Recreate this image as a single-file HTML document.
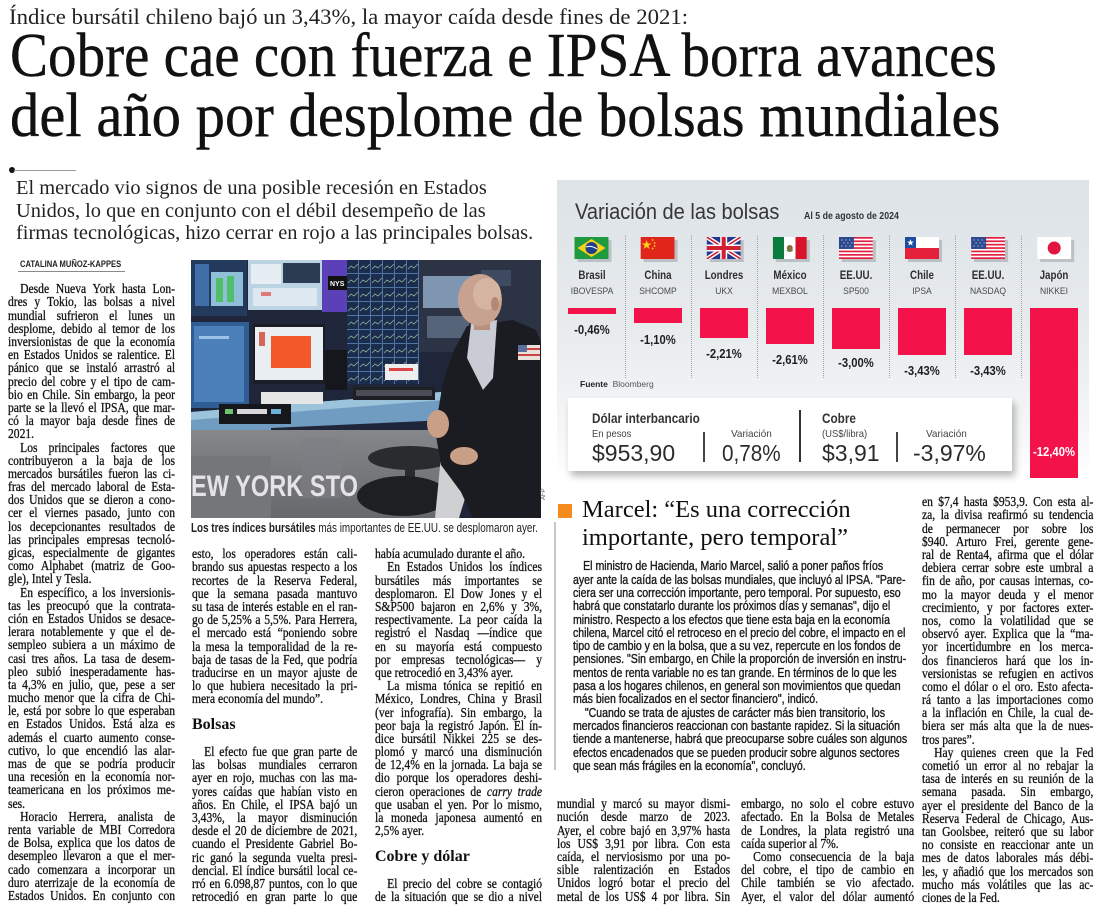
<!DOCTYPE html>
<html><head><meta charset="utf-8">
<style>
*{margin:0;padding:0;box-sizing:border-box}
body{width:1100px;height:912px;background:#fff;position:relative;overflow:hidden;font-family:"Liberation Serif",serif;color:#111}
.a{position:absolute}
.hl{position:absolute;font:62px/62px "Liberation Serif",serif;white-space:nowrap;transform-origin:0 0;color:#111;-webkit-text-stroke:0.4px #111}
.col{position:absolute;transform-origin:0 0;transform:scaleX(.87);font-family:"Liberation Serif",serif;font-size:13.3px;line-height:13.2px;color:#131313;-webkit-text-stroke:0.3px #131313}
.col>div{height:13.2px;text-align:justify;text-align-last:justify}
.col>.e{text-align-last:left}
.col>.i{text-indent:14px}
.h3{position:absolute;font:bold 16px/20px "Liberation Serif",serif;color:#111;white-space:nowrap}
.lbl{position:absolute;width:100px;text-align:center;white-space:nowrap;font-family:"Liberation Sans",sans-serif;transform-origin:50% 50%}
.nm{font-weight:bold;font-size:11.5px;line-height:14px;color:#2e2e2e;transform:scaleX(.85)}
.tk{font-size:9.5px;line-height:12px;color:#4a4a4a;transform:scaleX(.9)}
.vl{font-weight:bold;font-size:12.5px;line-height:14px;color:#1e1e1e;transform:scaleX(.9)}
.bar{position:absolute;background:#f3124a;width:48px;top:308px}
.sep{position:absolute;top:235px;height:143px;border-left:1px dotted #9ea3a8;width:0}
.s{position:absolute;font-family:"Liberation Sans",sans-serif;white-space:nowrap;transform-origin:0 0}
.mb{position:absolute;left:573px;top:560.4px;transform-origin:0 0;transform:scaleX(.845);font-family:"Liberation Sans",sans-serif;font-size:12.5px;line-height:13.3px;color:#1a1a1a;white-space:nowrap;-webkit-text-stroke:0.35px #1a1a1a}
.mb>div{height:13.3px}
</style></head><body>

<!-- Kicker & headline -->
<div class="a" style="left:9px;top:5.6px;font:22px/22px 'Liberation Serif',serif;color:#222;white-space:nowrap;transform:scaleX(1.035);transform-origin:0 0">Índice bursátil chileno bajó un 3,43%, la mayor caída desde fines de 2021:</div>
<div class="hl" style="left:10px;top:25px;transform:scaleX(.92)">Cobre cae con fuerza e IPSA borra avances</div>
<div class="hl" style="left:10px;top:85px;transform:scaleX(.946)">del año por desplome de bolsas mundiales</div>

<!-- dot + rule -->
<div class="a" style="left:9px;top:167px;width:6px;height:6px;border-radius:50%;background:#111"></div>
<div class="a" style="left:14px;top:169.5px;width:62px;height:1px;background:#9a9a9a"></div>

<!-- Deck -->
<div class="a" style="left:16px;top:177px;font:20px/22.5px 'Liberation Serif',serif;color:#222;white-space:nowrap;transform:scaleX(1.02);transform-origin:0 0">
<div>El mercado vio signos de una posible recesión en Estados</div>
<div>Unidos, lo que en conjunto con el débil desempeño de las</div>
<div>firmas tecnológicas, hizo cerrar en rojo a las principales bolsas.</div>
</div>

<!-- Byline -->
<div class="s" style="left:20px;top:259px;font-weight:bold;font-size:9.5px;line-height:12px;color:#222;transform:scaleX(.8)">CATALINA MUÑOZ-KAPPES</div>
<div class="a" style="left:18px;top:271px;width:107px;height:1px;background:#8a8a8a"></div>

<!-- Column 1 -->
<div class="col" style="left:8px;top:282.3px;width:192px">
<div class="i">Desde Nueva York hasta Lon-</div>
<div>dres y Tokio, las bolsas a nivel</div>
<div>mundial sufrieron el lunes un</div>
<div>desplome, debido al temor de los</div>
<div>inversionistas de que la economía</div>
<div>en Estados Unidos se ralentice. El</div>
<div>pánico que se instaló arrastró al</div>
<div>precio del cobre y el tipo de cam-</div>
<div>bio en Chile. Sin embargo, la peor</div>
<div>parte se la llevó el IPSA, que mar-</div>
<div>có la mayor baja desde fines de</div>
<div class="e">2021.</div>
<div class="i">Los principales factores que</div>
<div>contribuyeron a la baja de los</div>
<div>mercados bursátiles fueron las ci-</div>
<div>fras del mercado laboral de Esta-</div>
<div>dos Unidos que se dieron a cono-</div>
<div>cer el viernes pasado, junto con</div>
<div>los decepcionantes resultados de</div>
<div>las principales empresas tecnoló-</div>
<div>gicas, especialmente de gigantes</div>
<div>como Alphabet (matriz de Goo-</div>
<div class="e">gle), Intel y Tesla.</div>
<div class="i">En específico, a los inversionis-</div>
<div>tas les preocupó que la contrata-</div>
<div>ción en Estados Unidos se desace-</div>
<div>lerara notablemente y que el de-</div>
<div>sempleo subiera a un máximo de</div>
<div>casi tres años. La tasa de desem-</div>
<div>pleo subió inesperadamente has-</div>
<div>ta 4,3% en julio, que, pese a ser</div>
<div>mucho menor que la cifra de Chi-</div>
<div>le, está por sobre lo que esperaban</div>
<div>en Estados Unidos. Está alza es</div>
<div>además el cuarto aumento conse-</div>
<div>cutivo, lo que encendió las alar-</div>
<div>mas de que se podría producir</div>
<div>una recesión en la economía nor-</div>
<div>teamericana en los próximos me-</div>
<div class="e">ses.</div>
<div class="i">Horacio Herrera, analista de</div>
<div>renta variable de MBI Corredora</div>
<div>de Bolsa, explica que los datos de</div>
<div>desempleo llevaron a que el mer-</div>
<div>cado comenzara a incorporar un</div>
<div>duro aterrizaje de la economía de</div>
<div>Estados Unidos. En conjunto con</div>
</div>

<!-- Photo -->
<svg class="a" style="left:191px;top:260px" width="350" height="258" viewBox="0 0 350 258">
<defs>
<linearGradient id="dk" x1="0" y1="0" x2="0" y2="1"><stop offset="0" stop-color="#85878b"/><stop offset="1" stop-color="#66686c"/></linearGradient>
<pattern id="grid" width="12" height="14" patternUnits="userSpaceOnUse"><rect width="12" height="14" fill="#1b2c4c"/><path d="M0 13.5H12M11.5 0V14" stroke="#4f73a3" stroke-width="1"/><path d="M1 9 L4 6 L7 8 L11 4" stroke="#8fb39a" stroke-width="0.8" fill="none"/></pattern>
</defs>
<rect width="350" height="258" fill="#20263a"/>
<rect x="0" y="0" width="56" height="56" fill="#233a5c"/>
<rect x="4" y="4" width="14" height="42" fill="#3f6fa8"/>
<rect x="20" y="12" width="32" height="34" fill="#8fc0d8"/>
<rect x="25" y="18" width="7" height="24" fill="#4fbf6a"/>
<rect x="36" y="16" width="7" height="26" fill="#4fbf6a"/>
<rect x="57" y="0" width="74" height="50" fill="#bcd3e4"/>
<rect x="60" y="4" width="30" height="20" fill="#e6eef4"/>
<rect x="92" y="3" width="37" height="20" fill="#2b3b52"/>
<rect x="62" y="28" width="64" height="18" fill="#dde8f0"/>
<rect x="70" y="32" width="10" height="4" fill="#e07a7a"/>
<rect x="131" y="0" width="25" height="52" fill="#5b40b8"/>
<rect x="137" y="16" width="19" height="14" fill="#111"/>
<text x="139" y="26" font-family="Liberation Sans" font-size="7" fill="#fff" font-weight="bold">NYS</text>
<rect x="156" y="0" width="72" height="124" fill="url(#grid)"/>
<rect x="194" y="104" width="33" height="16" fill="#eeeeee"/>
<rect x="198" y="108" width="24" height="3" fill="#d44"/>
<rect x="228" y="0" width="122" height="92" fill="#2c3344"/>
<rect x="232" y="16" width="52" height="32" fill="#7f96b3"/>
<rect x="236" y="56" width="42" height="22" fill="#56647a"/>
<rect x="290" y="10" width="30" height="16" fill="#3e4a60"/>
<rect x="0" y="62" width="58" height="86" fill="#2f5d94"/>
<rect x="3" y="66" width="50" height="76" fill="#4c80bb"/>
<rect x="8" y="76" width="30" height="3" fill="#9cc2e8"/>
<rect x="62" y="64" width="72" height="60" fill="#1a1d26"/>
<rect x="64" y="67" width="68" height="53" fill="#e9eef3"/>
<rect x="80" y="76" width="40" height="32" fill="#f2582a"/>
<rect x="68" y="72" width="6" height="14" fill="#d6665a"/>
<rect x="134" y="90" width="22" height="40" fill="#15171d"/>
<polygon points="0,152 250,132 256,160 80,168 80,192 0,196" fill="#6f9cc0"/>
<polygon points="0,152 250,132 252,140 0,160" fill="#9cc3dc"/>
<rect x="70" y="132" width="62" height="12" fill="#e6e6e6"/>
<rect x="162" y="127" width="82" height="13" fill="#1d1f25"/>
<rect x="165" y="130" width="76" height="6" fill="#4a4d55"/>
<rect x="28" y="144" width="72" height="20" fill="#16171b"/>
<rect x="34" y="149" width="8" height="5" fill="#6fc06f"/><rect x="46" y="149" width="30" height="5" fill="#d8d8d8"/><rect x="80" y="149" width="10" height="5" fill="#6fb0d8"/>
<rect x="0" y="170" width="250" height="88" fill="url(#dk)"/>
<rect x="0" y="196" width="80" height="62" fill="#74767a"/>
<rect x="110" y="178" width="40" height="60" fill="#7d7f83" opacity=".6"/>
<text x="0" y="236" font-family="Liberation Sans" font-weight="bold" font-size="30" fill="#e4e4e4" textLength="167" lengthAdjust="spacingAndGlyphs">EW YORK STO</text>
<ellipse cx="219" cy="198" rx="42" ry="12" fill="#2a2b2f"/>
<rect x="214" y="204" width="10" height="30" fill="#2a2b2f"/>
<ellipse cx="212" cy="236" rx="46" ry="20" fill="#1e1f22"/>
<polygon points="250,196 282,184 284,206 268,258 244,258" fill="#cfd0d2"/>
<polygon points="276,66 322,60 345,70 350,82 350,258 282,258 270,232 250,205 244,170 252,122 262,92" fill="#1b1c21"/>
<polygon points="280,64 306,60 302,118 292,130 276,98" fill="#c9ccd4"/>
<rect x="283" y="58" width="16" height="12" fill="#b8917e"/>
<ellipse cx="289" cy="40" rx="22" ry="26" fill="#c8a290"/>
<ellipse cx="296" cy="34" rx="14" ry="16" fill="#d6b4a2"/>
<ellipse cx="304" cy="44" rx="4" ry="7" fill="#b48a76"/>
<ellipse cx="247" cy="164" rx="11" ry="14" fill="#c99f86"/>
<ellipse cx="273" cy="196" rx="14" ry="9" fill="#c99f86"/>
<rect x="327" y="85" width="22" height="15" fill="#e9e2d8"/>
<rect x="327" y="85" width="9" height="7" fill="#5a6f9a"/>
<rect x="336" y="88" width="13" height="2" fill="#c44"/><rect x="327" y="94" width="22" height="2" fill="#c44"/>
</svg>
<div class="a" style="left:541px;top:500px;font:6px/6px 'Liberation Sans',sans-serif;color:#555;transform:rotate(-90deg);transform-origin:0 0">AFP</div>

<!-- Caption -->
<div class="s" style="left:191px;top:521px;font-size:12.5px;line-height:14px;color:#222;transform:scaleX(.79)"><b>Los tres índices bursátiles</b> más importantes de EE.UU. se desplomaron ayer.</div>

<!-- Column 2 -->
<div class="col" style="left:192px;top:547.3px;width:190px">
<div>esto, los operadores están cali-</div>
<div>brando sus apuestas respecto a los</div>
<div>recortes de la Reserva Federal,</div>
<div>que la semana pasada mantuvo</div>
<div>su tasa de interés estable en el ran-</div>
<div>go de 5,25% a 5,5%. Para Herrera,</div>
<div>el mercado está “poniendo sobre</div>
<div>la mesa la temporalidad de la re-</div>
<div>baja de tasas de la Fed, que podría</div>
<div>traducirse en un mayor ajuste de</div>
<div>lo que hubiera necesitado la pri-</div>
<div class="e">mera economía del mundo”.</div>
<div></div><div></div><div></div>
<div class="i">El efecto fue que gran parte de</div>
<div>las bolsas mundiales cerraron</div>
<div>ayer en rojo, muchas con las ma-</div>
<div>yores caídas que habían visto en</div>
<div>años. En Chile, el IPSA bajó un</div>
<div>3,43%, la mayor disminución</div>
<div>desde el 20 de diciembre de 2021,</div>
<div>cuando el Presidente Gabriel Bo-</div>
<div>ric ganó la segunda vuelta presi-</div>
<div>dencial. El índice bursátil local ce-</div>
<div>rró en 6.098,87 puntos, con lo que</div>
<div>retrocedió en gran parte lo que</div>
</div>
<div class="h3" style="left:192px;top:715px">Bolsas</div>

<!-- Column 3 -->
<div class="col" style="left:375px;top:547.3px;width:192px">
<div class="e">había acumulado durante el año.</div>
<div class="i">En Estados Unidos los índices</div>
<div>bursátiles más importantes se</div>
<div>desplomaron. El Dow Jones y el</div>
<div>S&amp;P500 bajaron en 2,6% y 3%,</div>
<div>respectivamente. La peor caída la</div>
<div>registró el Nasdaq —índice que</div>
<div>en su mayoría está compuesto</div>
<div>por empresas tecnológicas— y</div>
<div class="e">que retrocedió en 3,43% ayer.</div>
<div class="i">La misma tónica se repitió en</div>
<div>México, Londres, China y Brasil</div>
<div>(ver infografía). Sin embargo, la</div>
<div>peor baja la registró Japón. El ín-</div>
<div>dice bursátil Nikkei 225 se des-</div>
<div>plomó y marcó una disminución</div>
<div>de 12,4% en la jornada. La baja se</div>
<div>dio porque los operadores deshi-</div>
<div>cieron operaciones de <i>carry trade</i></div>
<div>que usaban el yen. Por lo mismo,</div>
<div>la moneda japonesa aumentó en</div>
<div class="e">2,5% ayer.</div>
<div></div><div></div><div></div>
<div class="i">El precio del cobre se contagió</div>
<div>de la situación que se dio a nivel</div>
</div>
<div class="h3" style="left:375px;top:847px">Cobre y dólar</div>

<!-- Infographic -->
<div class="a" style="left:557px;top:180px;width:532px;height:300px;background:linear-gradient(#dde3e7 0%,#e6eaed 45%,#f3f5f6 80%,#ffffff 100%)"></div>
<div class="s" style="left:575px;top:199px;font-size:22px;line-height:26px;color:#363636;transform:scaleX(.91)">Variación de las bolsas</div>
<div class="s" style="left:804px;top:210px;font-size:10px;line-height:14px;font-weight:bold;color:#333;transform:scaleX(.88)">Al 5 de agosto de 2024</div>

<svg class="a" style="left:557px;top:230px" width="532" height="40" viewBox="0 0 532 40">
<g fill="#aeb4ba" opacity=".75">
<rect x="20.5" y="10" width="34" height="22"/><rect x="86.6" y="10" width="34" height="22"/><rect x="152.7" y="10" width="34" height="22"/><rect x="218.8" y="10" width="34" height="22"/><rect x="284.9" y="10" width="34" height="22"/><rect x="351" y="10" width="34" height="22"/><rect x="417.1" y="10" width="34" height="22"/><rect x="483.2" y="10" width="34" height="22"/>
</g>
<svg x="17.5" y="7" width="34" height="22" viewBox="0 0 34 22"><rect width="34" height="22" fill="#1f9a3e"/><polygon points="3,11 17,2 31,11 17,20" fill="#f7d116"/><circle cx="17" cy="11" r="6" fill="#1d3f8f"/><path d="M11.5 10 Q17 8 22.5 12" stroke="#fff" stroke-width="1" fill="none"/></svg>
<svg x="83.6" y="7" width="34" height="22" viewBox="0 0 34 22"><rect width="34" height="22" fill="#e0261b"/><polygon points="6,3 7.2,6.5 10.8,6.5 7.9,8.6 9,12 6,9.9 3,12 4.1,8.6 1.2,6.5 4.8,6.5" fill="#fcd116"/><circle cx="12" cy="3" r=".9" fill="#fcd116"/><circle cx="14" cy="6" r=".9" fill="#fcd116"/><circle cx="14" cy="9" r=".9" fill="#fcd116"/><circle cx="12" cy="11.5" r=".9" fill="#fcd116"/></svg>
<svg x="149.7" y="7" width="34" height="22" viewBox="0 0 34 22"><rect width="34" height="22" fill="#23378c"/><path d="M0 0L34 22M34 0L0 22" stroke="#fff" stroke-width="4.5"/><path d="M0 0L34 22M34 0L0 22" stroke="#d21f34" stroke-width="1.6"/><path d="M17 0V22M0 11H34" stroke="#fff" stroke-width="7"/><path d="M17 0V22M0 11H34" stroke="#d21f34" stroke-width="4"/></svg>
<svg x="215.8" y="7" width="34" height="22" viewBox="0 0 34 22"><rect width="11.3" height="22" fill="#0b7a3e"/><rect x="11.3" width="11.4" height="22" fill="#fff"/><rect x="22.7" width="11.3" height="22" fill="#d7142b"/><circle cx="17" cy="11" r="3" fill="#8a6a3a"/><path d="M14 13 Q17 16 20 13" stroke="#3a8a3a" stroke-width="1" fill="none"/></svg>
<svg x="281.9" y="7" width="34" height="22" viewBox="0 0 34 22"><rect width="34" height="22" fill="#fff"/><g fill="#e3203f"><rect y="0" width="34" height="1.7"/><rect y="3.4" width="34" height="1.7"/><rect y="6.8" width="34" height="1.7"/><rect y="10.2" width="34" height="1.7"/><rect y="13.6" width="34" height="1.7"/><rect y="17" width="34" height="1.7"/><rect y="20.3" width="34" height="1.7"/></g><rect width="15" height="11.9" fill="#2d4a8f"/><g fill="#c8d4f0"><circle cx="3" cy="3" r=".6"/><circle cx="7" cy="3" r=".6"/><circle cx="11" cy="3" r=".6"/><circle cx="5" cy="6" r=".6"/><circle cx="9" cy="6" r=".6"/><circle cx="13" cy="6" r=".6"/><circle cx="3" cy="9" r=".6"/><circle cx="7" cy="9" r=".6"/><circle cx="11" cy="9" r=".6"/></g></svg>
<svg x="348" y="7" width="34" height="22" viewBox="0 0 34 22"><rect width="34" height="11" fill="#fff"/><rect y="11" width="34" height="11" fill="#e5203b"/><rect width="11" height="11" fill="#1e4ca1"/><polygon points="5.5,2.2 6.4,4.6 8.9,4.6 6.9,6.1 7.6,8.6 5.5,7.1 3.4,8.6 4.1,6.1 2.1,4.6 4.6,4.6" fill="#fff"/></svg>
<svg x="414.1" y="7" width="34" height="22" viewBox="0 0 34 22"><rect width="34" height="22" fill="#fff"/><g fill="#e3203f"><rect y="0" width="34" height="1.7"/><rect y="3.4" width="34" height="1.7"/><rect y="6.8" width="34" height="1.7"/><rect y="10.2" width="34" height="1.7"/><rect y="13.6" width="34" height="1.7"/><rect y="17" width="34" height="1.7"/><rect y="20.3" width="34" height="1.7"/></g><rect width="15" height="11.9" fill="#2d4a8f"/><g fill="#c8d4f0"><circle cx="3" cy="3" r=".6"/><circle cx="7" cy="3" r=".6"/><circle cx="11" cy="3" r=".6"/><circle cx="5" cy="6" r=".6"/><circle cx="9" cy="6" r=".6"/><circle cx="13" cy="6" r=".6"/><circle cx="3" cy="9" r=".6"/><circle cx="7" cy="9" r=".6"/><circle cx="11" cy="9" r=".6"/></g></svg>
<svg x="480.2" y="7" width="34" height="22" viewBox="0 0 34 22"><rect width="34" height="22" fill="#fff"/><circle cx="17" cy="11" r="6.5" fill="#e3153f"/></svg>
</svg>

<div class="sep" style="left:624.6px"></div><div class="sep" style="left:690.7px"></div><div class="sep" style="left:756.8px"></div><div class="sep" style="left:822.9px"></div><div class="sep" style="left:889px"></div><div class="sep" style="left:955.1px"></div><div class="sep" style="left:1021.2px"></div>

<div class="lbl nm" style="left:541.5px;top:269px">Brasil</div>
<div class="lbl nm" style="left:607.6px;top:269px">China</div>
<div class="lbl nm" style="left:673.7px;top:269px">Londres</div>
<div class="lbl nm" style="left:739.8px;top:269px">México</div>
<div class="lbl nm" style="left:805.9px;top:269px">EE.UU.</div>
<div class="lbl nm" style="left:872px;top:269px">Chile</div>
<div class="lbl nm" style="left:938.1px;top:269px">EE.UU.</div>
<div class="lbl nm" style="left:1004.2px;top:269px">Japón</div>
<div class="lbl tk" style="left:541.5px;top:286px">IBOVESPA</div>
<div class="lbl tk" style="left:607.6px;top:286px">SHCOMP</div>
<div class="lbl tk" style="left:673.7px;top:286px">UKX</div>
<div class="lbl tk" style="left:739.8px;top:286px">MEXBOL</div>
<div class="lbl tk" style="left:805.9px;top:286px">SP500</div>
<div class="lbl tk" style="left:872px;top:286px">IPSA</div>
<div class="lbl tk" style="left:938.1px;top:286px">NASDAQ</div>
<div class="lbl tk" style="left:1004.2px;top:286px">NIKKEI</div>
<div class="bar" style="left:567.5px;height:6.3px"></div>
<div class="bar" style="left:633.6px;height:15px"></div>
<div class="bar" style="left:699.7px;height:30px"></div>
<div class="bar" style="left:765.8px;height:36px"></div>
<div class="bar" style="left:831.9px;height:41px"></div>
<div class="bar" style="left:898px;height:47px"></div>
<div class="bar" style="left:964.1px;height:47px"></div>
<div class="bar" style="left:1030.2px;height:170px"></div>
<div class="lbl vl" style="left:541.5px;top:323px">-0,46%</div>
<div class="lbl vl" style="left:607.6px;top:333px">-1,10%</div>
<div class="lbl vl" style="left:673.7px;top:347px">-2,21%</div>
<div class="lbl vl" style="left:739.8px;top:353px">-2,61%</div>
<div class="lbl vl" style="left:805.9px;top:356px">-3,00%</div>
<div class="lbl vl" style="left:872px;top:364px">-3,43%</div>
<div class="lbl vl" style="left:938.1px;top:364px">-3,43%</div>
<div class="lbl vl" style="left:1004.2px;top:445px;color:#fff">-12,40%</div>

<div class="s" style="left:580px;top:378px;font-size:8.5px;line-height:12px;color:#555"><b style="color:#222">Fuente</b>&nbsp; Bloomberg</div>

<div class="a" style="left:568px;top:398px;width:444px;height:73px;background:#fff;box-shadow:3px 5px 7px rgba(0,0,0,.28)"></div>
<div class="s" style="left:592px;top:410px;font-size:14px;line-height:16px;font-weight:bold;color:#333;transform:scaleX(.84)">Dólar interbancario</div>
<div class="s" style="left:822px;top:410px;font-size:14px;line-height:16px;font-weight:bold;color:#333;transform:scaleX(.84)">Cobre</div>
<div class="s" style="left:592px;top:427px;font-size:10.5px;line-height:14px;color:#444;transform:scaleX(.9)">En pesos</div>
<div class="s" style="left:731px;top:427px;font-size:10.5px;line-height:14px;color:#444;transform:scaleX(.95)">Variación</div>
<div class="s" style="left:822px;top:427px;font-size:10.5px;line-height:14px;color:#444;transform:scaleX(.9)">(US$/libra)</div>
<div class="s" style="left:926px;top:427px;font-size:10.5px;line-height:14px;color:#444;transform:scaleX(.95)">Variación</div>
<div class="s" style="left:592px;top:439px;font-size:23px;line-height:28px;color:#2b2b2b">$953,90</div>
<div class="s" style="left:722px;top:439px;font-size:23px;line-height:28px;color:#2b2b2b;transform:scaleX(.9)">0,78%</div>
<div class="s" style="left:822px;top:439px;font-size:23px;line-height:28px;color:#2b2b2b">$3,91</div>
<div class="s" style="left:913px;top:439px;font-size:23px;line-height:28px;color:#2b2b2b">-3,97%</div>
<div class="a" style="left:703px;top:432px;width:2px;height:30px;background:#444"></div>
<div class="a" style="left:799px;top:410px;width:2px;height:52px;background:#333"></div>
<div class="a" style="left:896px;top:432px;width:2px;height:30px;background:#444"></div>

<!-- Marcel box -->
<div class="a" style="left:558px;top:504px;width:14px;height:14px;background:#f58a1f"></div>
<div class="a" style="left:582px;top:496px;font:24.5px/28px 'Liberation Serif',serif;color:#111;white-space:nowrap">
<div>Marcel: “Es una corrección</div>
<div>importante, pero temporal”</div>
</div>
<div class="a" style="left:554px;top:522px;width:2px;height:248px;background:#c6c6c6"></div>
<div class="mb" style="width:400px">
<div style="padding-left:12px">El ministro de Hacienda, Mario Marcel, salió a poner paños fríos</div>
<div>ayer ante la caída de las bolsas mundiales, que incluyó al IPSA. "Pare-</div>
<div>ciera ser una corrección importante, pero temporal. Por supuesto, eso</div>
<div>habrá que constatarlo durante los próximos días y semanas", dijo el</div>
<div>ministro. Respecto a los efectos que tiene esta baja en la economía</div>
<div>chilena, Marcel citó el retroceso en el precio del cobre, el impacto en el</div>
<div>tipo de cambio y en la bolsa, que a su vez, repercute en los fondos de</div>
<div>pensiones. "Sin embargo, en Chile la proporción de inversión en instru-</div>
<div>mentos de renta variable no es tan grande. En términos de lo que les</div>
<div>pasa a los hogares chilenos, en general son movimientos que quedan</div>
<div>más bien focalizados en el sector financiero", indicó.</div>
<div style="padding-left:14px">"Cuando se trata de ajustes de carácter más bien transitorio, los</div>
<div>mercados financieros reaccionan con bastante rapidez. Si la situación</div>
<div>tiende a mantenerse, habrá que preocuparse sobre cuáles son algunos</div>
<div>efectos encadenados que se pueden producir sobre algunos sectores</div>
<div>que sean más frágiles en la economía", concluyó.</div>
</div>

<!-- Column 4 -->
<div class="col" style="left:557px;top:797.3px;width:199px">
<div>mundial y marcó su mayor dismi-</div>
<div>nución desde marzo de 2023.</div>
<div>Ayer, el cobre bajó en 3,97% hasta</div>
<div>los US$ 3,91 por libra. Con esta</div>
<div>caída, el nerviosismo por una po-</div>
<div>sible ralentización en Estados</div>
<div>Unidos logró botar el precio del</div>
<div>metal de los US$ 4 por libra. Sin</div>
</div>
<!-- Column 5 -->
<div class="col" style="left:741px;top:797.3px;width:199px">
<div>embargo, no solo el cobre estuvo</div>
<div>afectado. En la Bolsa de Metales</div>
<div>de Londres, la plata registró una</div>
<div class="e">caída superior al 7%.</div>
<div class="i">Como consecuencia de la baja</div>
<div>del cobre, el tipo de cambio en</div>
<div>Chile también se vio afectado.</div>
<div>Ayer, el valor del dólar aumentó</div>
</div>

<!-- Right column -->
<div class="col" style="left:922px;top:495.3px;width:197px;line-height:13.15px">
<div>en $7,4 hasta $953,9. Con esta al-</div>
<div>za, la divisa reafirmó su tendencia</div>
<div>de permanecer por sobre los</div>
<div>$940. Arturo Frei, gerente gene-</div>
<div>ral de Renta4, afirma que el dólar</div>
<div>debiera cerrar sobre este umbral a</div>
<div>fin de año, por causas internas, co-</div>
<div>mo la mayor deuda y el menor</div>
<div>crecimiento, y por factores exter-</div>
<div>nos, como la volatilidad que se</div>
<div>observó ayer. Explica que la “ma-</div>
<div>yor incertidumbre en los merca-</div>
<div>dos financieros hará que los in-</div>
<div>versionistas se refugien en activos</div>
<div>como el dólar o el oro. Esto afecta-</div>
<div>rá tanto a las importaciones como</div>
<div>a la inflación en Chile, la cual de-</div>
<div>biera ser más alta que la de nues-</div>
<div class="e">tros pares”.</div>
<div class="i">Hay quienes creen que la Fed</div>
<div>cometió un error al no rebajar la</div>
<div>tasa de interés en su reunión de la</div>
<div>semana pasada. Sin embargo,</div>
<div>ayer el presidente del Banco de la</div>
<div>Reserva Federal de Chicago, Aus-</div>
<div>tan Goolsbee, reiteró que su labor</div>
<div>no consiste en reaccionar ante un</div>
<div>mes de datos laborales más débi-</div>
<div>les, y añadió que los mercados son</div>
<div>mucho más volátiles que las ac-</div>
<div class="e">ciones de la Fed.</div>
</div>

</body></html>
